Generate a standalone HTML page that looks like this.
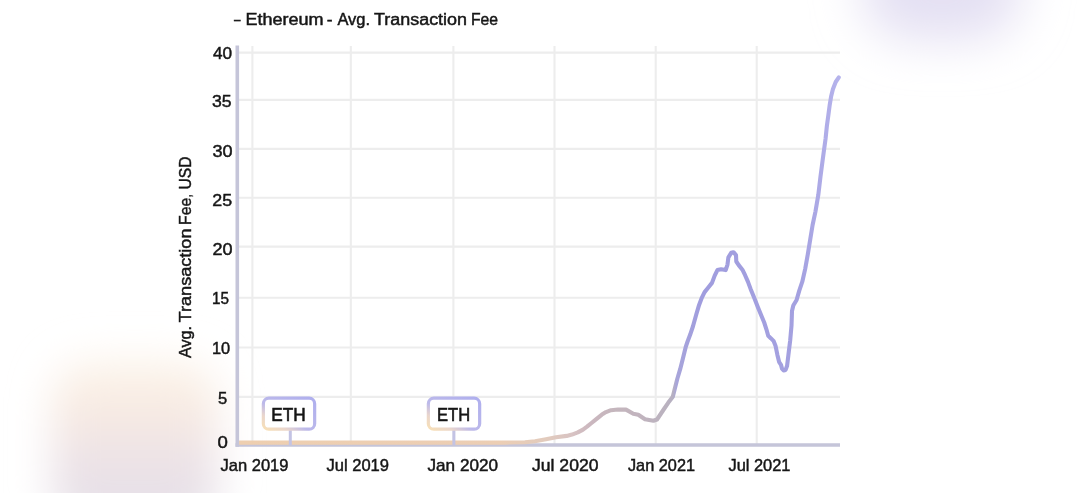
<!DOCTYPE html>
<html><head><meta charset="utf-8"><title>Ethereum - Avg. Transaction Fee</title>
<style>
html,body{margin:0;padding:0;background:#fff;}
body{width:1080px;height:493px;overflow:hidden;}
svg{display:block;}
text{font-family:"Liberation Sans",Arial,sans-serif;fill:#161616;stroke:#161616;stroke-width:0.45px;}
.tick{font-size:16.2px;}
.title{font-size:15.6px;}
.ylab{font-size:16.8px;}
.eth{font-size:18px;stroke-width:0.6px;}
</style></head><body>
<svg width="1080" height="493" viewBox="0 0 1080 493">
<defs>
<linearGradient id="lg" gradientUnits="userSpaceOnUse" x1="239" y1="0" x2="840" y2="0">
<stop offset="0.0000" stop-color="#eecfb0"/>
<stop offset="0.4343" stop-color="#ecceb4"/>
<stop offset="0.5108" stop-color="#e2cbbd"/>
<stop offset="0.5541" stop-color="#d8c3c3"/>
<stop offset="0.5840" stop-color="#cbb7bf"/>
<stop offset="0.6206" stop-color="#c5b6bd"/>
<stop offset="0.6672" stop-color="#c1b4be"/>
<stop offset="0.7105" stop-color="#bab2bf"/>
<stop offset="0.7221" stop-color="#b6b0c2"/>
<stop offset="0.7280" stop-color="#a8a5da"/>
<stop offset="0.7671" stop-color="#a09dde"/>
<stop offset="0.9334" stop-color="#a4a1e0"/>
<stop offset="0.9667" stop-color="#adaae6"/>
<stop offset="1.0000" stop-color="#b6b4ec"/>
</linearGradient>
<linearGradient id="bg" x1="0" y1="1" x2="1" y2="0">
<stop offset="0" stop-color="#f8e0b6"/>
<stop offset="0.22" stop-color="#ead6cc"/>
<stop offset="0.42" stop-color="#bcb9ea"/>
<stop offset="1" stop-color="#afafee"/>
</linearGradient>
<linearGradient id="gBL" x1="0" y1="0" x2="0" y2="1">
<stop offset="0" stop-color="#fdf5ea"/>
<stop offset="0.3" stop-color="#f7eae2"/>
<stop offset="0.6" stop-color="#ece2e7"/>
<stop offset="1" stop-color="#e2dfe8"/>
</linearGradient>
<filter id="bl1" x="-60%" y="-60%" width="220%" height="220%"><feGaussianBlur stdDeviation="20"/></filter>
<filter id="bl2" x="-60%" y="-60%" width="220%" height="220%"><feGaussianBlur stdDeviation="24"/></filter>
</defs>
<rect width="1080" height="493" fill="#ffffff"/>
<rect x="862" y="-70" width="160" height="110" rx="50" fill="#e4e0f3" filter="url(#bl2)"/>
<rect x="52" y="360" width="166" height="170" rx="40" fill="url(#gBL)" filter="url(#bl1)"/>
<line x1="239" y1="52.6" x2="840" y2="52.6" stroke="#ededed" stroke-width="2.1"/>
<line x1="239" y1="99.9" x2="840" y2="99.9" stroke="#ededed" stroke-width="2.1"/>
<line x1="239" y1="148.9" x2="840" y2="148.9" stroke="#ededed" stroke-width="2.1"/>
<line x1="239" y1="197.7" x2="840" y2="197.7" stroke="#ededed" stroke-width="2.1"/>
<line x1="239" y1="246.6" x2="840" y2="246.6" stroke="#ededed" stroke-width="2.1"/>
<line x1="239" y1="297.7" x2="840" y2="297.7" stroke="#ededed" stroke-width="2.1"/>
<line x1="239" y1="347.5" x2="840" y2="347.5" stroke="#ededed" stroke-width="2.1"/>
<line x1="239" y1="396.9" x2="840" y2="396.9" stroke="#ededed" stroke-width="2.1"/>
<line x1="252.4" y1="46" x2="252.4" y2="445" stroke="#ededed" stroke-width="2.1"/>
<line x1="350.8" y1="46" x2="350.8" y2="445" stroke="#ededed" stroke-width="2.1"/>
<line x1="453.4" y1="46" x2="453.4" y2="445" stroke="#ededed" stroke-width="2.1"/>
<line x1="554.5" y1="46" x2="554.5" y2="445" stroke="#ededed" stroke-width="2.1"/>
<line x1="655.7" y1="46" x2="655.7" y2="445" stroke="#ededed" stroke-width="2.1"/>
<line x1="756.7" y1="46" x2="756.7" y2="445" stroke="#ededed" stroke-width="2.1"/>
<line x1="235.5" y1="445" x2="840" y2="445" stroke="#c5c5d9" stroke-width="3.6"/>
<path d="M239.5 442.6 L505.0 442.6 L525.0 442.2 L535.0 441.2 L546.0 439.2 L556.0 437.3 L566.7 435.9 L572.0 434.6 L577.8 432.4 L583.0 429.6 L587.0 426.7 L591.5 423.0 L596.0 419.3 L601.9 414.6 L606.0 412.1 L611.0 410.2 L618.0 409.5 L626.0 409.6 L633.3 413.7 L638.3 414.7 L645.0 419.2 L653.4 420.8 L657.0 419.5 L664.0 409.0 L668.2 402.8 L672.8 396.8 L674.6 389.5 L677.4 378.5 L680.1 369.4 L682.9 358.4 L685.6 347.4 L687.4 342.0 L690.2 334.6 L692.9 326.5 L696.4 314.0 L699.1 304.9 L701.9 297.6 L704.6 292.1 L708.3 287.5 L712.0 282.9 L714.7 275.6 L717.4 270.1 L721.1 269.2 L725.7 270.1 L727.5 264.6 L728.4 257.3 L731.2 252.8 L733.5 252.2 L736.0 255.1 L736.3 261.5 L738.7 265.1 L742.4 269.7 L745.1 275.2 L747.9 281.6 L750.6 288.9 L754.3 298.0 L757.9 307.2 L761.6 316.3 L764.2 322.5 L766.4 329.3 L768.2 335.7 L771.0 338.4 L773.7 341.2 L775.5 345.7 L777.4 354.9 L779.2 362.2 L781.0 364.9 L782.0 368.6 L783.6 370.4 L785.6 369.9 L787.1 365.8 L788.4 354.9 L790.2 340.2 L791.5 325.6 L792.0 311.0 L793.3 305.5 L796.6 300.0 L799.2 290.9 L802.3 281.7 L805.2 268.9 L807.8 254.3 L810.2 239.6 L812.6 225.0 L815.5 211.3 L818.3 194.9 L820.5 176.6 L822.9 158.3 L825.6 138.5 L826.9 125.8 L828.4 114.9 L829.6 105.7 L831.1 96.6 L832.9 89.3 L835.7 82.0 L838.8 77.4" fill="none" stroke="url(#lg)" stroke-width="4.1" stroke-linejoin="round" stroke-linecap="round"/>
<line x1="237.3" y1="45.4" x2="237.3" y2="446.8" stroke="#c5c5d9" stroke-width="3.6"/>
<line x1="290.3" y1="430" x2="290.3" y2="445" stroke="#c3c3e4" stroke-width="3"/>
<rect x="263.35" y="398.2" width="51.3" height="31.0" rx="5.5" fill="#ffffff" stroke="url(#bg)" stroke-width="3.2"/>
<line x1="453.9" y1="430" x2="453.9" y2="445" stroke="#c3c3e4" stroke-width="3"/>
<rect x="428.35" y="398.2" width="51.3" height="31.0" rx="5.5" fill="#ffffff" stroke="url(#bg)" stroke-width="3.2"/>
<text x="213.00" y="59.20" textLength="19.12" lengthAdjust="spacingAndGlyphs" class="tick">40</text>
<text x="211.98" y="106.80" textLength="19.64" lengthAdjust="spacingAndGlyphs" class="tick">35</text>
<text x="212.42" y="156.60" textLength="20.11" lengthAdjust="spacingAndGlyphs" class="tick">30</text>
<text x="212.27" y="206.00" textLength="19.86" lengthAdjust="spacingAndGlyphs" class="tick">25</text>
<text x="212.42" y="254.80" textLength="20.11" lengthAdjust="spacingAndGlyphs" class="tick">20</text>
<text x="212.02" y="304.00" textLength="17.03" lengthAdjust="spacingAndGlyphs" class="tick">15</text>
<text x="211.99" y="353.90" textLength="18.20" lengthAdjust="spacingAndGlyphs" class="tick">10</text>
<text x="217.90" y="403.50" textLength="9.23" lengthAdjust="spacingAndGlyphs" class="tick">5</text>
<text x="217.40" y="448.20" textLength="10.35" lengthAdjust="spacingAndGlyphs" class="tick">0</text>
<text x="220.47" y="471.40" textLength="68.03" lengthAdjust="spacingAndGlyphs" class="tick">Jan 2019</text>
<text x="326.45" y="471.40" textLength="62.55" lengthAdjust="spacingAndGlyphs" class="tick">Jul 2019</text>
<text x="427.49" y="471.40" textLength="70.53" lengthAdjust="spacingAndGlyphs" class="tick">Jan 2020</text>
<text x="532.00" y="471.40" textLength="66.49" lengthAdjust="spacingAndGlyphs" class="tick">Jul 2020</text>
<text x="627.97" y="471.40" textLength="67.03" lengthAdjust="spacingAndGlyphs" class="tick">Jan 2021</text>
<text x="728.46" y="471.40" textLength="62.03" lengthAdjust="spacingAndGlyphs" class="tick">Jul 2021</text>
<text x="271.16" y="421.10" textLength="34.41" lengthAdjust="spacingAndGlyphs" class="eth">ETH</text>
<text x="436.99" y="421.10" textLength="33.09" lengthAdjust="spacingAndGlyphs" class="eth">ETH</text>
<text y="24.70" class="title"><tspan x="234.05" textLength="6.56" lengthAdjust="spacingAndGlyphs">–</tspan> <tspan x="245.45" textLength="78.08" lengthAdjust="spacingAndGlyphs">Ethereum</tspan> <tspan x="326.73" textLength="5.79" lengthAdjust="spacingAndGlyphs">-</tspan> <tspan x="337.42" textLength="32.62" lengthAdjust="spacingAndGlyphs">Avg.</tspan> <tspan x="373.97" textLength="93.06" lengthAdjust="spacingAndGlyphs">Transaction</tspan> <tspan x="470.93" textLength="27.08" lengthAdjust="spacingAndGlyphs">Fee</tspan></text>
<text transform="translate(191.20 0) rotate(-90)" y="0" class="ylab"><tspan x="-358.11" textLength="32.19" lengthAdjust="spacingAndGlyphs">Avg.</tspan> <tspan x="-322.41" textLength="93.91" lengthAdjust="spacingAndGlyphs">Transaction</tspan> <tspan x="-224.98" textLength="27.35" lengthAdjust="spacingAndGlyphs">Fee</tspan><tspan x="-197.34" textLength="2.79" lengthAdjust="spacingAndGlyphs">,</tspan> <tspan x="-189.55" textLength="32.99" lengthAdjust="spacingAndGlyphs">USD</tspan></text>
</svg>
</body></html>
